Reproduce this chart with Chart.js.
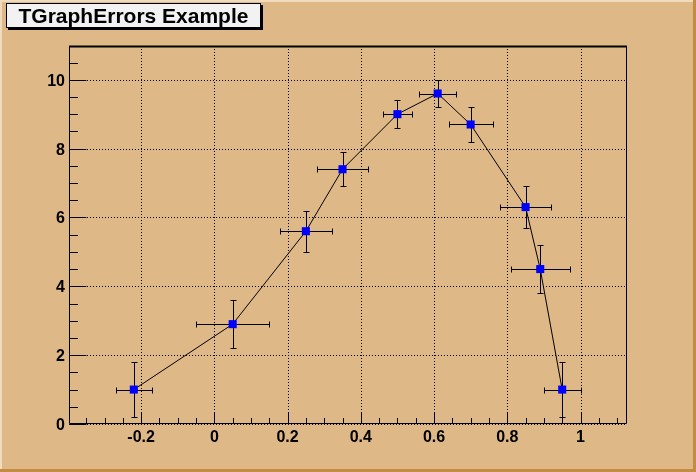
<!DOCTYPE html>
<html>
<head>
<meta charset="utf-8">
<script src="https://cdn.jsdelivr.net/npm/chart.js@4.4.1/dist/chart.umd.min.js"></script>
<style>
    body { margin: 0; background: #deb887; }
    #wrap { position: relative; width: 696px; height: 472px; }
    #title {
        position: absolute; left: 6px; top: 3px; width: 253px; height: 23px;
        border: 1px solid #000; background: #f2f2f2; box-shadow: 2px 2px 0 #000;
        font: bold 21px "Liberation Sans", Arial, sans-serif; text-align: center; line-height: 24px;
    }
</style>
</head>
<body>
<div id="wrap">
    <canvas id="graphChart" width="696" height="472"></canvas>
    <div id="title">TGraphErrors Example</div>
</div>
<script>
const xValues = [-0.22, 0.05, 0.25, 0.35, 0.5, 0.61, 0.7, 0.85, 0.89, 0.95];
const yValues = [1, 2.9, 5.6, 7.4, 9, 9.6, 8.7, 6.3, 4.5, 1];
const xErrors = [0.05, 0.1, 0.07, 0.07, 0.04, 0.05, 0.06, 0.07, 0.08, 0.05];
const yErrors = [0.8, 0.7, 0.6, 0.5, 0.4, 0.4, 0.5, 0.6, 0.7, 0.8];

const xMajorTicks = [-0.2, 0, 0.2, 0.4, 0.6, 0.8, 1];
const xTickLabels = ['-0.2', '0', '0.2', '0.4', '0.6', '0.8', '1'];
const yMajorTicks = [0, 2, 4, 6, 8, 10];
const yTickLabels = ['0', '2', '4', '6', '8', '10'];
const xMinorStep = 0.05;
const yMinorStep = 0.5;
const xRange = [-0.397, 1.127];
const yRange = [0, 10.98];

const labelFont = 'bold 16px "Liberation Sans", Arial, sans-serif';

function minorValues(range, step) {
    const vals = [];
    for (let i = Math.ceil(range[0] / step - 1e-9); i * step <= range[1] + 1e-9; i++) {
        vals.push(i * step);
    }
    return vals;
}

const frameBackground = {
    id: 'frameBackground',
    beforeDraw(chart) {
        const ctx = chart.ctx;
        const w = chart.width, h = chart.height;
        ctx.save();
        ctx.fillStyle = '#deb887';
        ctx.fillRect(0, 0, w, h);
        ctx.fillStyle = '#f0dcbc';
        ctx.fillRect(0, 0, w, 2);
        ctx.fillRect(0, 0, 2, h);
        ctx.fillStyle = '#c48c40';
        ctx.fillRect(w - 3, 0, 3, h);
        ctx.fillRect(0, h - 3, w, 3);
        ctx.restore();
    }
};

const gridAndErrors = {
    id: 'gridAndErrors',
    beforeDatasetsDraw(chart) {
        const ctx = chart.ctx;
        const area = chart.chartArea;
        const xs = chart.scales.x, ys = chart.scales.y;
        ctx.save();
        ctx.strokeStyle = '#000';
        ctx.lineWidth = 1;
        ctx.setLineDash([1, 2]);
        xMajorTicks.forEach(v => {
            const px = Math.round(xs.getPixelForValue(v)) + 0.5;
            ctx.beginPath();
            ctx.moveTo(px, area.top);
            ctx.lineTo(px, area.bottom);
            ctx.stroke();
        });
        yMajorTicks.forEach(v => {
            const py = Math.round(ys.getPixelForValue(v)) + 0.5;
            ctx.beginPath();
            ctx.moveTo(area.left, py);
            ctx.lineTo(area.right, py);
            ctx.stroke();
        });
        ctx.setLineDash([]);

        // error bars with small end caps
        const cap = 3;
        xValues.forEach((xv, i) => {
            const cx = Math.round(xs.getPixelForValue(xv)) + 0.5;
            const cy = Math.round(ys.getPixelForValue(yValues[i])) + 0.5;
            const x1 = Math.round(xs.getPixelForValue(xv - xErrors[i])) + 0.5;
            const x2 = Math.round(xs.getPixelForValue(xv + xErrors[i])) + 0.5;
            const y1 = Math.round(ys.getPixelForValue(yValues[i] - yErrors[i])) + 0.5;
            const y2 = Math.round(ys.getPixelForValue(yValues[i] + yErrors[i])) + 0.5;
            ctx.beginPath();
            ctx.moveTo(x1, cy); ctx.lineTo(x2, cy);
            ctx.moveTo(cx, y1); ctx.lineTo(cx, y2);
            ctx.moveTo(x1, cy - cap); ctx.lineTo(x1, cy + cap);
            ctx.moveTo(x2, cy - cap); ctx.lineTo(x2, cy + cap);
            ctx.moveTo(cx - cap, y1); ctx.lineTo(cx + cap, y1);
            ctx.moveTo(cx - cap, y2); ctx.lineTo(cx + cap, y2);
            ctx.stroke();
        });
        ctx.restore();
    },
    afterDatasetsDraw(chart) {
        const ctx = chart.ctx;
        const area = chart.chartArea;
        const xs = chart.scales.x, ys = chart.scales.y;
        const L = Math.round(area.left) + 0.5, R = Math.round(area.right) - 0.5;
        const T = Math.round(area.top) + 0.5, B = Math.round(area.bottom) - 0.5;
        ctx.save();
        ctx.strokeStyle = '#000';
        ctx.lineWidth = 1;
        ctx.beginPath();
        ctx.rect(L, T, R - L, B - T);
        ctx.stroke();
        ctx.lineWidth = 2;
        ctx.beginPath();
        ctx.moveTo(L - 0.5, T); ctx.lineTo(R + 0.5, T);
        ctx.stroke();
        ctx.lineWidth = 1;

        // ticks drawn inward, ROOT style
        ctx.beginPath();
        minorValues(xRange, xMinorStep).forEach(v => {
            const px = Math.round(xs.getPixelForValue(v)) + 0.5;
            const major = xMajorTicks.some(m => Math.abs(m - v) < 1e-6);
            ctx.moveTo(px, B);
            ctx.lineTo(px, B - (major ? 11 : 5.5));
        });
        minorValues(yRange, yMinorStep).forEach(v => {
            const py = Math.round(ys.getPixelForValue(v)) + 0.5;
            const major = yMajorTicks.some(m => Math.abs(m - v) < 1e-6);
            ctx.moveTo(L, py);
            ctx.lineTo(L + (major ? 17 : 8.5), py);
        });
        ctx.stroke();

        ctx.fillStyle = '#000';
        ctx.font = labelFont;
        ctx.textAlign = 'center';
        ctx.textBaseline = 'alphabetic';
        xMajorTicks.forEach((v, i) => {
            ctx.fillText(xTickLabels[i], xs.getPixelForValue(v), area.bottom + 18);
        });
        ctx.textAlign = 'right';
        yMajorTicks.forEach((v, i) => {
            ctx.fillText(yTickLabels[i], area.left - 4, ys.getPixelForValue(v) + 6);
        });
        ctx.restore();
    }
};

const points = xValues.map((x, i) => ({ x: x, y: yValues[i] }));

new Chart(document.getElementById('graphChart'), {
    type: 'scatter',
    data: {
        datasets: [{
            data: points,
            showLine: true,
            borderColor: '#000',
            borderWidth: 1,
            tension: 0,
            pointStyle: 'rect',
            pointRadius: 5.7,
            pointHoverRadius: 5.7,
            pointBackgroundColor: '#0000ff',
            pointBorderColor: '#0000ff',
            pointBorderWidth: 0,
            clip: false
        }]
    },
    options: {
        responsive: false,
        animation: false,
        events: [],
        layout: { padding: { left: 69, top: 46, right: 69, bottom: 48 } },
        plugins: {
            legend: { display: false },
            tooltip: { enabled: false }
        },
        scales: {
            x: { type: 'linear', min: xRange[0], max: xRange[1], display: false },
            y: { type: 'linear', min: yRange[0], max: yRange[1], display: false }
        }
    },
    plugins: [frameBackground, gridAndErrors]
});
</script>
</body>
</html>
